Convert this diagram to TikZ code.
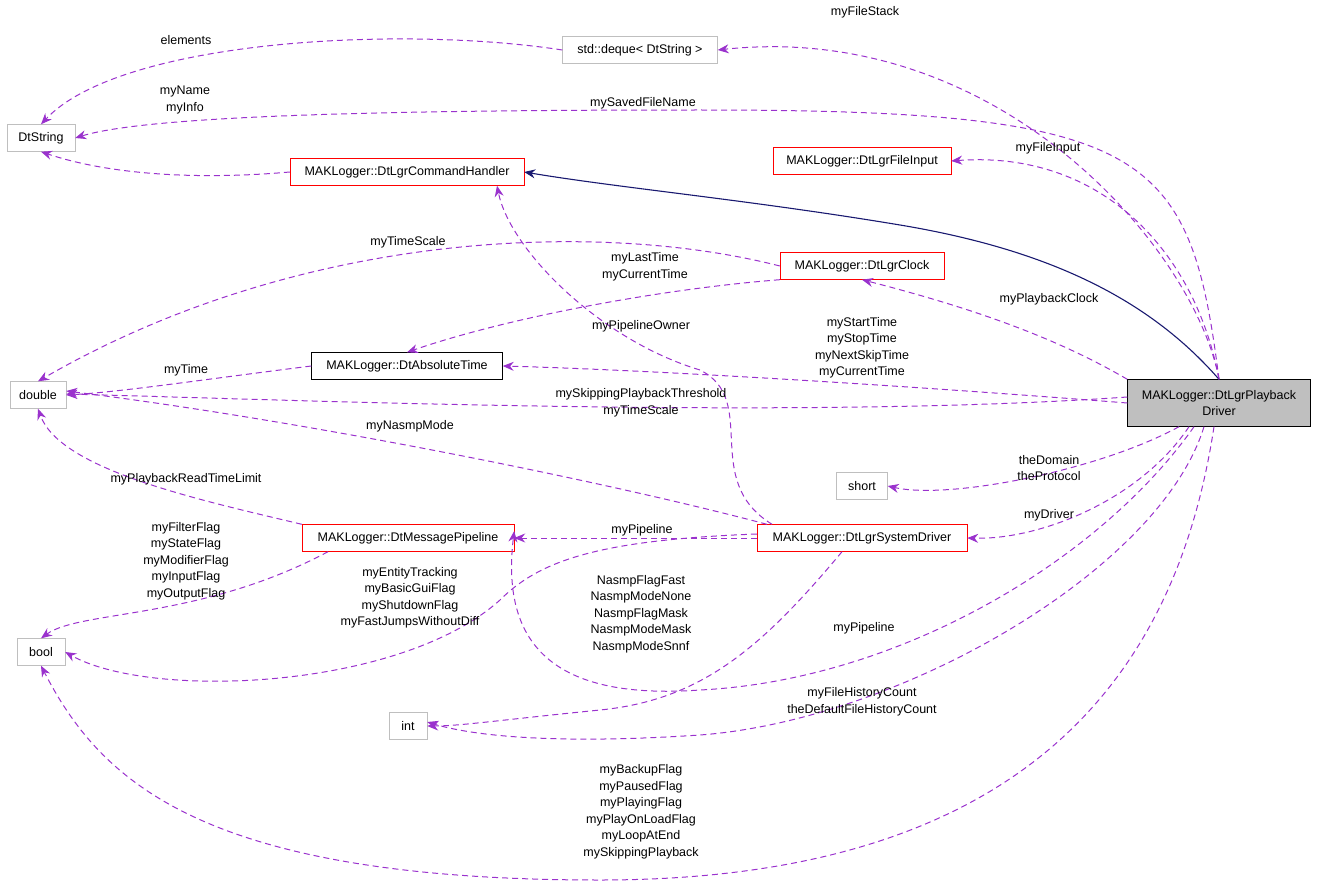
\documentclass[tikz,border=0pt]{standalone}
\usepackage{fontspec}
\setmainfont{Liberation Sans}
\usetikzlibrary{arrows.meta,positioning}
\definecolor{edgepurple}{HTML}{9A32CD}
\definecolor{edgenavy}{HTML}{191970}
\definecolor{boxgray}{HTML}{BFBFBF}
\definecolor{lightgray}{HTML}{BFBFBF}
\tikzset{
    boxsty/.style={rectangle,minimum height=27pt,inner xsep=8pt,font=\fontsize{12.5}{16.5}\selectfont},
    graysty/.style={boxsty,draw=lightgray},
    redsty/.style={boxsty,draw=red},
    blacksty/.style={boxsty,draw=black},
    mainsty/.style={boxsty,draw=black,fill=boxgray,align=center,minimum height=47pt},
    usesty/.style={draw=edgepurple,line width=1pt,dash pattern=on 6pt off 4pt,-{Stealth[length=11pt,width=9pt]}},
    inhsty/.style={draw=edgenavy,line width=1.1pt,-{Stealth[length=11pt,width=9pt]}},
    lblsty/.style={align=center,font=\fontsize{12.5}{16.5}\selectfont},
}
\begin{document}
\begin{tikzpicture}[x=1pt,y=-1pt]
  \useasboundingbox (0,0) rectangle (1317,888);
  % nodes
  \node[graysty,minimum width=155pt] (deque) at (640,50) {std::deque< DtString >};
  \node[graysty,minimum width=68pt] (dtstring) at (41,138) {DtString};
  \node[redsty,minimum width=234pt] (cmdh) at (407,172) {MAKLogger::DtLgrCommandHandler};
  \node[redsty,minimum width=178pt] (finput) at (862,161) {MAKLogger::DtLgrFileInput};
  \node[redsty,minimum width=164pt] (clock) at (862,266) {MAKLogger::DtLgrClock};
  \node[graysty,minimum width=56pt] (double) at (38,395) {double};
  \node[blacksty,minimum width=191pt] (abstime) at (407,366) {MAKLogger::DtAbsoluteTime};
  \node[mainsty,minimum width=183pt] (driver) at (1219,403) {MAKLogger::DtLgrPlayback\\Driver};
  \node[graysty,minimum width=51pt] (short) at (862,486) {short};
  \node[redsty,minimum width=212pt] (pipe) at (408,538) {MAKLogger::DtMessagePipeline};
  \node[redsty,minimum width=210pt] (sysdrv) at (862,538) {MAKLogger::DtLgrSystemDriver};
  \node[graysty,minimum width=48pt] (bool) at (41,652) {bool};
  \node[graysty,minimum width=38pt] (int) at (408,726) {int};

  % connectors
  \draw[usesty] (driver.north) .. controls (1195,250) and (1000,20) .. (deque.east);
  \draw[usesty] (deque.west) .. controls (400,25) and (120,40) .. (dtstring.north);
  \draw[usesty] (driver.north) .. controls (1190,150) and (1150,110) .. (700,110) .. controls (400,110) and (150,115) .. (dtstring.east);
  \draw[usesty] (cmdh.west) .. controls (200,180) and (110,175) .. (dtstring.south);
  \draw[inhsty] (driver.north) .. controls (1150,300) and (1050,250) .. (900,225) .. controls (750,200) and (620,188) .. (cmdh.east);
  \draw[usesty] (driver.north) .. controls (1195,250) and (1100,150) .. (finput.east);
  \draw[usesty] (driver.north west) .. controls (1060,340) and (980,310) .. (clock.south);
  \draw[usesty] (clock.west) .. controls (600,220) and (300,230) .. (double.north);
  \draw[usesty] (clock.south west) .. controls (650,290) and (500,320) .. (abstime.north);
  \draw[usesty] (abstime.west) .. controls (200,380) and (120,392) .. (double.east);
  \draw[usesty] (driver.west) .. controls (900,385) and (650,370) .. (abstime.east);
  \draw[usesty] ([yshift=6pt]driver.west) .. controls (800,420) and (300,400) .. ([yshift=1pt]double.east);
  \draw[usesty] ([xshift=-95pt]sysdrv.north) .. controls (600,480) and (300,420) .. ([yshift=4pt]double.east);
  \draw[usesty] ([xshift=-90pt]sysdrv.north) .. controls (700,480) and (760,400) .. (700,370) .. controls (600,340) and (510,250) .. ([xshift=90pt]cmdh.south);
  \draw[usesty] (pipe.north west) .. controls (200,500) and (60,470) .. (double.south);
  \draw[usesty] ([xshift=-80pt]pipe.south) .. controls (200,620) and (80,610) .. (bool.north);
  \draw[usesty] (sysdrv.west) -- (pipe.east);
  \draw[usesty] ([xshift=-20pt]sysdrv.south) .. controls (760,650) and (700,700) .. (600,710) .. controls (500,720) and (460,726) .. (int.east);
  \draw[usesty] ([xshift=-40pt]driver.south) .. controls (1100,470) and (950,500) .. (short.east);
  \draw[usesty] ([xshift=-30pt]driver.south) .. controls (1140,500) and (1040,540) .. (sysdrv.east);
  \draw[usesty] ([yshift=4pt]sysdrv.west) .. controls (600,540) and (540,560) .. (500,600) .. controls (400,690) and (150,700) .. (bool.east);
  \draw[usesty] ([xshift=-25pt]driver.south) .. controls (1100,560) and (900,680) .. (700,690) .. controls (560,700) and (500,650) .. ([yshift=7pt]pipe.east);
  \draw[usesty] ([xshift=-15pt]driver.south) .. controls (1160,570) and (900,720) .. (700,735) .. controls (550,745) and (470,735) .. ([yshift=4pt]int.east);
  \draw[usesty] ([xshift=-5pt]driver.south) .. controls (1180,650) and (1050,880) .. (600,880) .. controls (200,880) and (100,780) .. (bool.south);

  % labels
  \node[lblsty] (lfilestack) at (865,12) {myFileStack};
  \node[lblsty] (lelements) at (186,40) {elements};
  \node[lblsty] (lsaved) at (643,103) {mySavedFileName};
  \node[lblsty] (lname) at (185,100) {myName\\myInfo};
  \node[lblsty] (lfinput) at (1048,148) {myFileInput};
  \node[lblsty] (lclock) at (1049,299) {myPlaybackClock};
  \node[lblsty] (ltscale) at (408,242) {myTimeScale};
  \node[lblsty] (llast) at (645,267) {myLastTime\\myCurrentTime};
  \node[lblsty] (lowner) at (641,326) {myPipelineOwner};
  \node[lblsty] (ltime) at (186,370) {myTime};
  \node[lblsty] (lstart) at (862,348) {myStartTime\\myStopTime\\myNextSkipTime\\myCurrentTime};
  \node[lblsty] (lskip) at (641,403) {mySkippingPlaybackThreshold\\myTimeScale};
  \node[lblsty] (lnasmp) at (410,426) {myNasmpMode};
  \node[lblsty] (lread) at (186,479) {myPlaybackReadTimeLimit};
  \node[lblsty] (ldomain) at (1049,468) {theDomain\\theProtocol};
  \node[lblsty] (ldriver) at (1049,515) {myDriver};
  \node[lblsty] (lpipe1) at (642,530) {myPipeline};
  \node[lblsty] (lflags) at (186,561) {myFilterFlag\\myStateFlag\\myModifierFlag\\myInputFlag\\myOutputFlag};
  \node[lblsty] (lentity) at (410,598) {myEntityTracking\\myBasicGuiFlag\\myShutdownFlag\\myFastJumpsWithoutDiff};
  \node[lblsty] (lnflag) at (641,614) {NasmpFlagFast\\NasmpModeNone\\NasmpFlagMask\\NasmpModeMask\\NasmpModeSnnf};
  \node[lblsty] (lpipe2) at (864,628) {myPipeline};
  \node[lblsty] (lhist) at (862,702) {myFileHistoryCount\\theDefaultFileHistoryCount};
  \node[lblsty] (lbackup) at (641,812) {myBackupFlag\\myPausedFlag\\myPlayingFlag\\myPlayOnLoadFlag\\myLoopAtEnd\\mySkippingPlayback};
\end{tikzpicture}
\end{document}
